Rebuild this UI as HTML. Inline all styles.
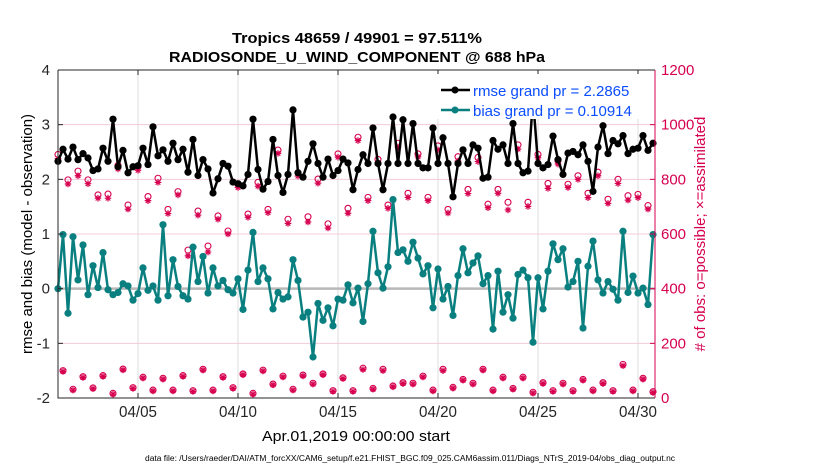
<!DOCTYPE html>
<html><head><meta charset="utf-8">
<style>
html,body{margin:0;padding:0;background:#fff;}
svg text{font-family:"Liberation Sans",sans-serif;}
</style></head>
<body>
<svg id="chart" width="830" height="470" viewBox="0 0 830 470" xmlns="http://www.w3.org/2000/svg">
<text x="357" y="43" text-anchor="middle" font-size="15" font-weight="bold" textLength="250" lengthAdjust="spacingAndGlyphs">Tropics 48659 / 49901 = 97.511%</text>
<text x="357" y="62" text-anchor="middle" font-size="15" font-weight="bold" textLength="376" lengthAdjust="spacingAndGlyphs">RADIOSONDE_U_WIND_COMPONENT @ 688 hPa</text>
<g id="grid"></g>
<g id="series"></g>
<g id="axes"></g>
<text x="356" y="441" text-anchor="middle" font-size="15" textLength="188" lengthAdjust="spacingAndGlyphs">Apr.01,2019 00:00:00 start</text>
<text x="410" y="461" text-anchor="middle" font-size="8" textLength="530" lengthAdjust="spacingAndGlyphs">data file: /Users/raeder/DAI/ATM_forcXX/CAM6_setup/f.e21.FHIST_BGC.f09_025.CAM6assim.011/Diags_NTrS_2019-04/obs_diag_output.nc</text>
<text transform="translate(32,234) rotate(-90)" text-anchor="middle" font-size="15">rmse and bias (model - observation)</text>
<text transform="translate(705,234) rotate(-90)" text-anchor="middle" font-size="15" fill="#d6004f">#  of obs: o=possible; ×=assimilated</text>
<g>
<rect x="436" y="74" width="217" height="45" fill="#fff"/>
<line x1="441" y1="90" x2="470" y2="90" stroke="#000" stroke-width="2.5"/>
<circle cx="455" cy="90" r="3.5" fill="#000"/>
<text x="473" y="96" font-size="15" fill="#0b4dff">rmse grand pr = 2.2865</text>
<line x1="441" y1="110" x2="470" y2="110" stroke="#0a7f7f" stroke-width="2.5"/>
<circle cx="455" cy="110" r="3.5" fill="#0a7f7f"/>
<text x="473" y="116" font-size="15" fill="#0b4dff">bias grand pr = 0.10914</text>
</g>
</svg>
<script>
const rmseValues=[2.33,2.55,2.37,2.59,2.36,2.47,2.39,2.16,2.19,2.57,2.33,3.10,2.23,2.53,2.12,2.23,2.25,2.57,2.27,2.96,2.43,2.54,2.33,2.66,2.36,2.55,2.13,2.73,2.07,2.36,2.19,1.75,2.01,2.29,2.24,1.95,1.92,1.88,2.09,3.10,2.18,1.82,1.96,2.73,2.07,1.76,2.09,3.27,2.12,2.04,2.33,2.65,2.29,2.04,2.37,2.07,2.16,2.37,2.30,1.81,2.18,2.45,2.29,2.94,2.29,1.81,2.29,3.14,2.29,3.09,2.29,3.02,2.29,2.21,2.21,2.94,2.29,2.76,2.29,1.68,2.29,2.54,2.29,2.63,2.57,2.02,2.04,2.71,2.55,2.63,2.29,3.02,2.29,2.12,2.15,3.47,2.29,2.21,2.27,2.79,2.36,2.09,2.48,2.51,2.45,2.63,2.33,1.78,2.59,2.98,2.47,2.71,2.65,2.80,2.47,2.55,2.57,2.80,2.53,2.66];
const biasValues=[0,0.99,-0.45,0.95,0.16,0.80,-0.11,0.42,0.02,0.66,-0.02,-0.11,-0.07,0.09,0.05,-0.21,-0.09,0.38,-0.03,0.05,-0.21,1.17,-0.13,0.53,0.04,-0.13,-0.19,0.76,0.13,0.59,-0.08,0.38,0.05,0.15,-0.02,-0.08,0.18,-0.38,0.34,1.03,0.13,0.38,0.18,-0.37,-0.07,-0.19,-0.15,0.53,0.15,-0.52,-0.43,-1.25,-0.27,-0.58,-0.35,-0.68,-0.19,-0.21,0.07,-0.26,0.01,-0.60,0.09,1.05,0.29,0.01,0.40,1.63,0.66,0.71,0.50,0.85,0.56,0.27,0.42,-0.35,0.36,-0.19,0.04,-0.49,0.24,0.73,0.29,0.47,0.60,0.09,0.24,-0.74,0.32,-0.43,-0.11,-0.54,0.26,0.34,0.20,-0.98,0.20,-0.37,0.32,0.82,0.53,0.73,0.03,0.13,0.50,-0.72,0.41,0.87,0.16,-0.08,0.13,-0.01,-0.21,1.05,-0.07,0.23,-0.08,0.01,-0.29,0.99];
const obsPossible=[891,100,798,32,830,78,798,37,743,82,746,17,851,106,706,38,846,76,737,29,804,72,690,29,755,82,541,27,684,105,556,29,666,78,611,38,782,88,673,17,789,102,690,51,907,80,654,32,824,84,663,54,801,88,637,27,893,74,694,27,954,109,734,35,873,105,706,44,932,56,749,54,893,80,734,29,922,105,690,39,883,68,763,54,880,105,709,29,763,76,716,35,926,76,716,21,891,56,785,27,868,54,782,27,813,68,749,29,826,56,727,27,800,123,740,29,745,72,704,23];
const obsAssimilated=[876,97,783,29,813,75,784,34,731,79,731,14,838,103,691,35,833,73,722,26,789,69,675,26,743,79,520,24,669,102,534,26,654,75,600,35,770,85,661,14,775,99,678,48,895,77,639,29,812,81,644,51,786,85,622,24,881,71,676,24,942,104,722,32,860,100,694,41,918,53,734,51,882,77,722,26,908,100,677,36,867,65,748,51,865,102,696,26,749,73,688,32,911,73,701,18,879,53,767,24,856,51,770,24,800,65,733,26,813,53,712,24,785,118,724,26,733,69,691,20];
const dateTickLabels=["04/05","04/10","04/15","04/20","04/25","04/30"];
const dateTickDays=[4,9,14,19,24,29];
const leftTicks=[-2,-1,0,1,2,3,4];
const rightTicks=[0,200,400,600,800,1000,1200];

const NS="http://www.w3.org/2000/svg";
const X0=58,X1=655,Y0=70,Y1=398;
const DAYSPAN=(X1-X0)/20;
function xDay(d){return X0+(d/DAYSPAN)*(X1-X0);}
function xIdx(i){return xDay(i*0.25);}
function yL(v){return Y1-(v+2)/6*(Y1-Y0);}
function yR(c){return Y1-c/1200*(Y1-Y0);}
function mk(tag,attrs,parent){const e=document.createElementNS(NS,tag);for(const k in attrs)e.setAttribute(k,attrs[k]);parent.appendChild(e);return e;}
const grid=document.getElementById('grid'),ser=document.getElementById('series'),ax=document.getElementById('axes');
const CR="#d6004f";

mk('rect',{x:X0,y:Y0,width:X1-X0,height:Y1-Y0,fill:'#fff'},grid);
dateTickDays.forEach((d,k)=>{
  const l=mk('line',{x1:xDay(d),x2:xDay(d),y1:Y0,y2:Y1,stroke:'#dcdcdc','stroke-width':1},grid);
  
  
  const t=mk('line',{x1:xDay(d),x2:xDay(d),y1:Y0,y2:Y0+5,stroke:'#262626'},ax);
  
  
  const t2=mk('line',{x1:xDay(d),x2:xDay(d),y1:Y1,y2:Y1-5,stroke:'#262626'},ax);
  
  
  const tx=mk('text',{x:xDay(d),y:417,'text-anchor':'middle','font-size':16,fill:'#262626',textLength:38,lengthAdjust:'spacingAndGlyphs'},ax);
  tx.textContent=dateTickLabels[k];
  
  
});
rightTicks.forEach(c=>{
  if(c>0&&c<1200&&c!==400){
    const l=mk('line',{x1:X0,x2:X1,y1:yR(c),y2:yR(c),stroke:'#f3cbd8','stroke-width':1},grid);
    
    
  }
  const t=mk('line',{x1:X1,x2:X1-5,y1:yR(c),y2:yR(c),stroke:CR},ax);
  
  
  const tx=mk('text',{x:X1+6,y:yR(c)+5,'font-size':15,fill:CR},ax);
  tx.textContent=c;
  
  
});
leftTicks.forEach(v=>{
  const t=mk('line',{x1:X0,x2:X0+5,y1:yL(v),y2:yL(v),stroke:'#262626'},ax);
  
  
  const tx=mk('text',{x:X0-8,y:yL(v)+5,'text-anchor':'end','font-size':15,fill:'#262626'},ax);
  tx.textContent=v;
  
  
});
const zl=mk('line',{x1:X0,x2:X1,y1:yL(0),y2:yL(0),stroke:'#b8b8b8','stroke-width':2.5},grid);



obsPossible.forEach((c,i)=>{
  const o=mk('circle',{cx:xIdx(i),cy:yR(c),r:3,fill:'none',stroke:CR,'stroke-width':1.1},ser);
  
  
});
obsAssimilated.forEach((c,i)=>{
  const x=xIdx(i),y=yR(c),r=3.3;
  const d=`M${x-r},${y}H${x+r}M${x},${y-r}V${y+r}M${x-r*0.7},${y-r*0.7}L${x+r*0.7},${y+r*0.7}M${x-r*0.7},${y+r*0.7}L${x+r*0.7},${y-r*0.7}`;
  const s=mk('path',{d:d,stroke:CR,'stroke-width':1.2,fill:'none'},ser);
  
  
});
function drawSeries(vals,color,name){
  const d=vals.map((v,i)=>(i?'L':'M')+xIdx(i).toFixed(1)+','+yL(v).toFixed(1)).join('');
  const p=mk('path',{d:d,fill:'none',stroke:color,'stroke-width':2.5,'stroke-linejoin':'round'},ser);
  
  
  vals.forEach((v,i)=>{
    const c=mk('circle',{cx:xIdx(i),cy:yL(v),r:3.6,fill:color},ser);
    
    
  });
}
drawSeries(biasValues,'#0a7f7f','bias');
drawSeries(rmseValues,'#000','rmse');

const fr=mk('path',{d:`M${X0},${Y0}H${X1}M${X0},${Y0}V${Y1}H${X1}`,fill:'none',stroke:'#262626','stroke-width':1},ax);


const ra=mk('line',{x1:X1,x2:X1,y1:Y0,y2:Y1,stroke:CR,'stroke-width':1},ax);


</script>
</body></html>
